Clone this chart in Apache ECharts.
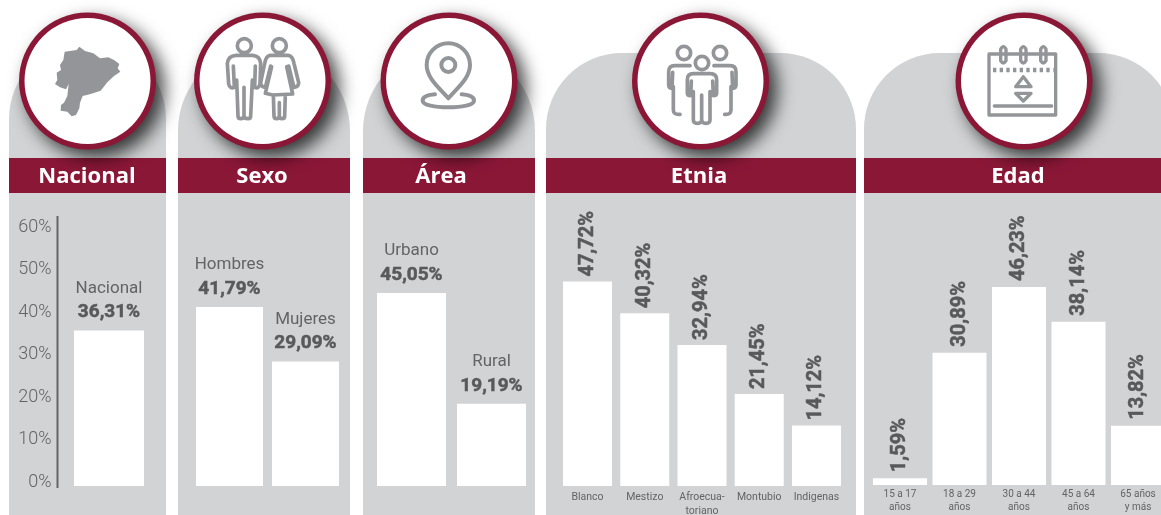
<!DOCTYPE html>
<html>
<head>
<meta charset="utf-8">
<title>Nacional, Sexo, Área, Etnia, Edad</title>
<style>
  html, body { margin: 0; padding: 0; background: #fff; }
  #chart { width: 1161px; height: 515px; }
</style>
</head>
<body>
<div id="chart"></div>
<script src="https://cdn.jsdelivr.net/npm/echarts@6/dist/echarts.min.js"></script>
<script>
const nacionalCats = ['Nacional'];
const nacionalVals = [36.31];
const sexoCats = ['Hombres', 'Mujeres'];
const sexoVals = [41.79, 29.09];
const areaCats = ['Urbano', 'Rural'];
const areaVals = [45.05, 19.19];
const etniaCats = ['Blanco', 'Mestizo', 'Afroecua-\ntoriano', 'Montubio', 'Indigenas'];
const etniaVals = [47.72, 40.32, 32.94, 21.45, 14.12];
const edadCats = ['15 a 17\naños', '18 a 29\naños', '30 a 44\naños', '45 a 64\naños', '65 años\ny más'];
const edadVals = [1.59, 30.89, 46.23, 38.14, 13.82];
const panelTitles = ['Nacional', 'Sexo', 'Área', 'Etnia', 'Edad'];

const RED = '#8b1737';
const PANEL = '#d1d3d4';
const TEXT = '#636466';
const BOLD = '#58595b';
const ICON = '#939598';
const FONT = 'Roboto, sans-serif';

const chart = echarts.init(document.getElementById('chart'));
const fmt = (v) => v.toFixed(2).replace('.', ',') + '%';

// panel geometry: x, width, top, radius, circle centre x, title centre x
const panels = [
  { x: 9, w: 157, top: 41, r: 78, cx: 87.5, tx: 87 },
  { x: 178, w: 172, top: 45, r: 86, cx: 262.5, tx: 262 },
  { x: 363, w: 172, top: 45, r: 86, cx: 449, tx: 441 },
  { x: 546, w: 310, top: 53, r: 76, cx: 700.5, tx: 699 },
  { x: 864, w: 310, top: 53, r: 76, cx: 1024, tx: 1018 },
];

// graphic has no plain path type, so each icon path gets registered as a shape
let shapeCount = 0;
const pathShape = (d) => {
  const name = 'iconShape' + shapeCount++;
  echarts.graphic.registerShape(name, echarts.graphic.extendPath(d, {}));
  return name;
};
const stroke = (lw) => ({ stroke: ICON, fill: 'none', lineWidth: lw, lineCap: 'round', lineJoin: 'round' });
// icons are traced on a 3x grid, origin is the crop corner
const icon = (ox, oy, d, style) => ({
  type: pathShape(d), x: ox, y: oy, scaleX: 1 / 3, scaleY: 1 / 3, z: 5, style,
});
const ring = (cx, cy, r) => `M ${cx - r} ${cy} A ${r} ${r} 0 1 1 ${cx + r} ${cy} A ${r} ${r} 0 1 1 ${cx - r} ${cy} Z`;

const icons = [
  // Ecuador
  icon(50, 40, 'M 88 20 L 105 33 L 130 40 L 150 55 L 175 52 L 192 60 L 208 72 L 203 85 L 211 95 L 192 108 L 172 127 L 152 152 L 122 162 L 98 168 L 90 188 L 88 205 L 78 225 L 65 229 L 52 215 L 32 212 L 33 195 L 42 188 L 52 168 L 54 150 L 56 132 L 48 148 L 30 142 L 15 132 L 22 120 L 20 98 L 33 90 L 30 75 L 40 60 L 44 35 L 65 32 L 80 30 Z',
    { fill: ICON, stroke: 'none' }),
  // hombre y mujer
  icon(220, 30, ring(73, 47, 21) +
    ' M 40 108 L 43 172 Q 30 178 26 162 L 22 100 Q 24 78 48 76 L 98 76 Q 120 78 122 100 L 120 162 Q 116 178 104 172 L 106 108' +
    ' M 50 150 L 54 258 Q 54 266 62 266 Q 72 266 72 258 L 72 172 M 72 258 Q 72 266 84 266 Q 92 266 92 258 L 97 150', stroke(11)),
  icon(220, 30, ring(178, 47, 21) +
    ' M 150 76 L 205 76 Q 218 78 222 100 L 236 158 Q 236 170 222 172 L 206 108 M 150 76 Q 138 78 134 100 L 122 158 Q 122 170 136 172 L 152 108' +
    ' M 155 110 L 136 190 L 158 195 L 218 192 L 200 110 M 160 195 L 162 258 Q 162 266 170 266 Q 178 266 178 258 L 178 218 M 178 258 Q 178 266 186 266 Q 194 266 194 258 L 196 195', stroke(11)),
  // pin
  icon(360, 0, 'M 265 295 C 240 265 200 235 200 195 A 65 65 0 1 1 330 195 C 330 235 290 265 265 295 Z ' + ring(265, 195, 21), stroke(12)),
  icon(360, 0, 'M 225 283 C 200 285 188 292 188 302 C 188 315 225 322 265 322 C 305 322 342 315 342 302 C 342 292 330 285 305 283', stroke(12)),
  // grupo
  icon(660, 35, ring(72, 54, 20) + ' ' + ring(180, 54, 20) + ' ' + ring(126, 84, 20) +
    ' M 90 92 L 44 92 Q 26 92 26 110 L 26 150 Q 26 160 36 160 L 38 112 M 40 155 L 40 225 Q 40 240 60 238' +
    ' M 162 92 L 210 92 Q 228 92 228 110 L 228 150 Q 228 160 218 160 L 216 112 M 213 155 L 213 225 Q 213 240 194 238' +
    ' M 100 116 L 150 116 Q 170 116 170 134 L 170 175 Q 170 182 160 182 L 158 138 M 100 116 Q 82 116 82 134 L 82 175 Q 82 182 92 182 L 94 138' +
    ' M 100 170 L 100 255 Q 100 265 112 265 Q 125 265 125 255 L 125 180 M 125 255 Q 125 265 138 265 Q 150 265 150 255 L 150 170', stroke(11)),
  // calendario
  icon(985, 40, 'M 18 42 L 212 42 L 212 225 L 12 225 L 12 42 Z M 28 198 L 200 198', stroke(10)),
  icon(985, 40, 'M 47 28 Q 55 12 63 28 L 63 62 Q 55 76 47 62 Z M 107 28 Q 115 12 123 28 L 123 62 Q 115 76 107 62 Z M 167 28 Q 175 12 183 28 L 183 62 Q 175 76 167 62 Z', stroke(10)),
  icon(985, 40, 'M 115 110 L 92 140 L 138 140 Z M 92 160 L 138 160 L 115 183 Z', stroke(10)),
  icon(985, 40, 'M 24 90 L 206 90', { stroke: ICON, fill: 'none', lineWidth: 14, lineDash: [10, 10] }),
];

const graphics = [];
panels.forEach((p, i) => {
  graphics.push({
    type: 'rect', z: 0,
    shape: { x: p.x, y: p.top, width: p.w, height: 515 - p.top, r: [p.r, p.r, 0, 0] },
    style: { fill: PANEL },
  });
  graphics.push({
    type: 'rect', z: 1,
    shape: { x: p.x, y: 158, width: p.w, height: 35 },
    style: { fill: RED },
  });
  // red disc casts the shadow, white disc on top leaves the rim
  graphics.push({
    type: 'circle', z: 3,
    shape: { cx: p.cx, cy: 81, r: 68.5 },
    style: { fill: RED, shadowBlur: 18, shadowOffsetX: 8, shadowOffsetY: 8, shadowColor: 'rgba(0,0,0,0.75)' },
  });
  graphics.push({
    type: 'circle', z: 4,
    shape: { cx: p.cx, cy: 81, r: 63 },
    style: { fill: '#fff' },
  });
  graphics.push({
    type: 'text', z: 4, x: p.tx, y: 177,
    style: {
      text: panelTitles[i], fill: '#fff', font: 'bold 22px "Open Sans", sans-serif',
      textAlign: 'center', textVerticalAlign: 'middle',
    },
  });
});
// eje vertical
graphics.push({
  type: 'line', z: 1,
  shape: { x1: 57.5, y1: 216, x2: 57.5, y2: 488 },
  style: { stroke: TEXT, lineWidth: 2 },
});

const flatLabel = (cats) => ({
  show: true, position: 'top', distance: 6, color: BOLD,
  formatter: (p) => `{n|${cats[p.dataIndex]}}\n{v|${fmt(p.value)}}`,
  rich: {
    n: { fontFamily: FONT, fontSize: 17, color: TEXT, lineHeight: 24, align: 'center' },
    v: {
      fontFamily: FONT, fontSize: 19, fontWeight: 'bold', color: BOLD, lineHeight: 24, align: 'center',
      textBorderColor: BOLD, textBorderWidth: 0.5,
    },
  },
});
const tallLabel = (gap, dx) => ({
  show: true, position: 'top', rotate: 90, align: 'left', verticalAlign: 'middle', distance: gap,
  offset: [dx, 0],
  fontFamily: FONT, fontSize: 20, fontWeight: 'bold', color: BOLD,
  textBorderColor: BOLD, textBorderWidth: 0.5,
  formatter: (p) => fmt(p.value),
});

// grid box of each bar group, last one only holds the percent scale
const boxes = [
  { left: 74, width: 70, top: 229, height: 257 },
  { left: 191.5, width: 152, top: 229, height: 257 },
  { left: 371.5, width: 160, top: 229, height: 257 },
  { left: 558.9, width: 286.2, top: 229, height: 257 },
  { left: 870.25, width: 297.5, top: 228, height: 257 },
  { left: 57.5, width: 1, top: 227, height: 255 },
].map((b) => ({ ...b, outerBoundsMode: 'none' }));

const makeX = (i, cats, size, margin, lineHeight) => ({
  type: 'category', gridIndex: i, data: cats,
  axisLine: { show: false }, axisTick: { show: false },
  axisLabel: size
    ? { show: true, interval: 0, margin, fontFamily: FONT, fontSize: size, color: TEXT, lineHeight }
    : { show: false },
});
const makeY = (i) => ({ type: 'value', gridIndex: i, min: 0, max: 60, show: false });
const makeBar = (i, vals, width, label) => ({
  type: 'bar', xAxisIndex: i, yAxisIndex: i, data: vals, barWidth: width,
  itemStyle: { color: '#fff' }, label, silent: true,
});

chart.setOption({
  animation: false,
  backgroundColor: '#fff',
  graphic: { elements: graphics.concat(icons) },
  grid: boxes,
  xAxis: [
    makeX(0, nacionalCats),
    makeX(1, sexoCats),
    makeX(2, areaCats),
    makeX(3, etniaCats, 10.5, 4, 14),
    makeX(4, edadCats, 10, 3, 13),
    makeX(5, []),
  ],
  yAxis: [
    makeY(0), makeY(1), makeY(2), makeY(3), makeY(4),
    {
      type: 'value', gridIndex: 5, min: 0, max: 60, interval: 10,
      axisLine: { show: false }, axisTick: { show: false }, splitLine: { show: false },
      axisLabel: { margin: 6, fontFamily: FONT, fontSize: 18, fontWeight: 300, color: TEXT, formatter: '{value}%' },
    },
  ],
  series: [
    makeBar(0, nacionalVals, 70, flatLabel(nacionalCats)),
    makeBar(1, sexoVals, 67, flatLabel(sexoCats)),
    makeBar(2, areaVals, 69, flatLabel(areaCats)),
    makeBar(3, etniaVals, 49, tallLabel(7, -2)),
    makeBar(4, edadVals, 54, tallLabel(8, -2)),
  ],
});
</script>
</body>
</html>
